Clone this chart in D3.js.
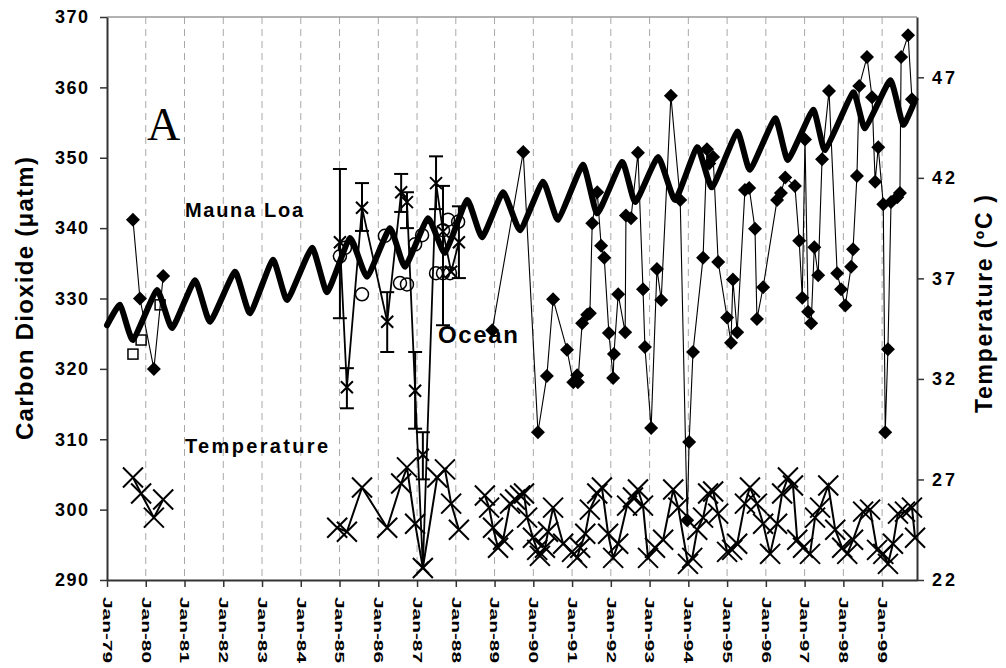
<!DOCTYPE html>
<html><head><meta charset="utf-8">
<script src="https://cdn.jsdelivr.net/npm/d3@7"></script>
<style>
body{margin:0;background:#fff}
svg{display:block}
text{font-family:"Liberation Sans",Arial,sans-serif;font-weight:bold;fill:#000}
</style>
</head><body>
<svg id="chart" width="1006" height="668"></svg>
<script>
// ---------- tick labels ----------
const xTickYears = [1979,1980,1981,1982,1983,1984,1985,1986,1987,1988,1989,1990,1991,1992,1993,1994,1995,1996,1997,1998,1999];
const xTickLabels = ["Jan-79","Jan-80","Jan-81","Jan-82","Jan-83","Jan-84","Jan-85","Jan-86","Jan-87","Jan-88","Jan-89","Jan-90","Jan-91","Jan-92","Jan-93","Jan-94","Jan-95","Jan-96","Jan-97","Jan-98","Jan-99"];
const co2Ticks = [290,300,310,320,330,340,350,360,370];
const tempTicks = [22,27,32,37,42,47];

// ---------- Mauna Loa (thick line) ----------
const mlDates = [1979.00,1979.34,1979.67,1980.29,1980.68,1981.27,1981.66,1982.30,1982.69,1983.28,1983.65,1984.29,1984.68,1985.27,1985.71,1986.30,1986.69,1987.28,1987.72,1988.29,1988.68,1989.22,1989.66,1990.25,1990.64,1991.28,1991.65,1992.29,1992.63,1993.22,1993.66,1994.23,1994.61,1995.26,1995.59,1996.24,1996.57,1997.22,1997.53,1998.25,1998.56,1999.21,1999.54,1999.85];
const mlValues = [326.2,329.1,324.1,331.2,325.8,332.6,326.7,333.8,327.9,335.5,329.8,337.2,330.9,338.6,333.1,340.0,334.5,341.4,336.5,344.0,338.7,345.1,339.7,346.6,341.2,349.0,342.1,349.4,343.7,350.1,344.0,351.5,345.8,353.7,348.3,355.6,349.7,356.8,351.1,359.3,354.2,361.0,354.7,358.2];

// ---------- Ocean pCO2 (diamonds, thin line); null = break ----------
const oceanDates = [1979.67,1979.85,1980.21,1980.45,1984.0,1988.94,1989.74,1990.12,1990.35,1990.51,1990.87,1991.03,1991.13,1991.15,1991.26,1991.39,1991.46,1991.52,1991.65,1991.75,1991.83,1991.95,1992.06,1992.08,1992.19,1992.37,1992.39,1992.52,1992.70,1992.83,1992.88,1993.04,1993.19,1993.30,1993.55,1993.79,1993.97,1994.02,1994.12,1994.38,1994.48,1994.54,1994.64,1994.77,1995.00,1995.10,1995.15,1995.26,1995.46,1995.57,1995.72,1995.77,1995.93,1996.29,1996.39,1996.50,1996.75,1996.86,1996.94,1997.01,1997.09,1997.17,1997.25,1997.35,1997.45,1997.63,1997.84,1997.94,1998.05,1998.20,1998.25,1998.35,1998.41,1998.61,1998.74,1998.82,1998.90,1999.03,1999.08,1999.15,1999.23,1999.39,1999.46,1999.49,1999.67,1999.77];
const oceanValues = [341.2,330.0,320.0,333.2,null,325.5,350.8,311.0,319.0,329.9,322.7,318.1,319.1,318.1,326.5,327.7,327.9,340.7,345.1,337.5,335.8,325.1,318.7,322.1,330.6,325.2,341.8,341.4,350.7,331.3,323.1,311.6,334.2,329.8,358.8,344.0,298.5,309.6,322.4,335.8,351.2,349.2,350.1,335.2,327.3,323.7,332.7,325.2,345.4,345.7,339.9,327.1,331.6,344.0,345.0,347.2,346.0,338.2,330.1,352.6,328.1,326.5,337.3,333.3,349.8,359.5,333.6,331.3,329.0,334.5,337.0,347.4,360.2,364.3,358.6,346.6,351.5,343.4,311.0,322.8,343.7,344.4,345.0,364.3,367.4,358.3];

// ---------- open squares ----------
const squareDates = [1979.67,1979.88,1980.37];
const squareValues = [322.1,324.1,329.1];

// ---------- open circles ----------
const circleDates = [1985.01,1985.14,1985.58,1986.17,1986.56,1986.74,1986.95,1987.13,1987.49,1987.67,1987.85,1987.67,1987.80,1988.06];
const circleValues = [336.0,337.2,330.6,338.9,332.2,332.0,337.7,339.0,333.6,333.6,333.6,339.7,341.2,340.9];

// ---------- X markers with error bars (connected) ----------
const xsDates  = [1985.01,1985.19,1985.58,1986.23,1986.59,1986.74,1986.95,1987.15,1987.49,1987.67,1987.88,1988.08];
const xsValues = [338.0,317.4,342.9,326.7,345.1,343.7,316.9,291.8,346.4,339.5,333.8,338.0];
const xsLow    = [327.2,314.4,339.6,322.4,342.3,340.0,311.5,null,342.7,326.2,null,332.9];
const xsHigh   = [348.4,320.1,346.4,330.9,347.7,345.1,322.4,null,350.2,346.0,null,343.1];
// unconnected X with error bar
const xsExtraDates = [1987.15];
const xsExtraValues = [307.8];
const xsExtraLow = [304.3];
const xsExtraHigh = [311.0];

// ---------- Temperature (big X, right axis); null = break ----------
const tempDates = [1979.67,1979.88,1980.21,1980.45,1982.0,1984.94,1985.19,1985.58,1986.23,1986.59,1986.74,1986.95,1987.15,1987.52,1987.72,1987.88,1988.08,1988.4,
1988.75,1988.86,1988.96,1989.09,1989.22,1989.40,1989.53,1989.66,1989.76,1989.84,1989.99,1990.10,1990.17,1990.30,1990.38,1990.51,1990.77,1991.00,1991.13,1991.21,1991.34,1991.46,1991.65,1991.77,1991.93,1992.06,1992.19,1992.42,1992.57,1992.70,1992.83,1992.96,1993.14,1993.35,1993.61,1993.74,1993.99,1994.10,1994.23,1994.38,1994.51,1994.64,1994.77,1995.00,1995.13,1995.26,1995.46,1995.59,1995.77,1995.93,1996.11,1996.29,1996.42,1996.57,1996.70,1996.81,1996.96,1997.14,1997.27,1997.40,1997.61,1997.79,1997.97,1998.10,1998.25,1998.51,1998.69,1998.87,1999.03,1999.15,1999.28,1999.41,1999.59,1999.77,1999.85];
const tempValues = [27.1,26.3,25.1,26.0,null,24.6,24.4,26.6,24.6,26.8,27.6,24.8,22.6,27.1,27.5,25.8,24.5,null,
26.2,25.6,24.6,23.6,24.0,25.8,26.0,26.2,26.3,25.1,24.1,23.5,23.2,23.6,24.4,25.6,23.8,23.4,23.1,23.6,24.3,25.5,26.3,26.6,24.3,23.1,23.8,25.7,26.1,26.5,25.7,23.1,23.6,24.0,26.5,25.6,22.8,23.1,24.5,25.1,26.3,26.4,25.3,23.4,23.5,23.8,25.8,26.6,25.8,24.8,23.3,24.8,26.3,27.1,26.7,24.0,23.6,23.3,25.1,25.6,26.7,24.5,23.6,23.3,24.0,25.4,25.5,23.5,23.3,22.8,23.8,25.3,25.4,25.6,24.1];

// ---------- chart ----------
const svg = d3.select("#chart");
svg.append("rect").attr("width",1006).attr("height",668).attr("fill","#fff");

const x = d3.scaleLinear().domain([1979, 1999.9]).range([107, 917]);
const yL = d3.scaleLinear().domain([290, 370]).range([580, 17]);
const yR = d3.scaleLinear().domain([22, 50]).range([580, 17]);
const FONT = "Liberation Sans, Arial, sans-serif";

// gridlines
svg.append("g").selectAll("line").data(xTickYears.slice(1)).join("line")
  .attr("x1", d => x(d)).attr("x2", d => x(d))
  .attr("y1", yL(370)).attr("y2", yL(290))
  .attr("stroke", "#a8a8a8").attr("stroke-width", 1).attr("stroke-dasharray", "7,5");

// top border
svg.append("line").attr("x1", x(1979)).attr("x2", x(1999.9)).attr("y1", yL(370)).attr("y2", yL(370))
  .attr("stroke", "#999").attr("stroke-width", 1.5);

// left axis
const gL = svg.append("g").attr("transform", `translate(${x(1979)},0)`)
  .call(d3.axisLeft(yL).tickValues(co2Ticks).tickSize(7).tickPadding(12).tickSizeOuter(0));
gL.select(".domain").attr("stroke", "#333").attr("stroke-width", 2);
gL.selectAll(".tick line").attr("stroke", "#333").attr("stroke-width", 1.5);
gL.selectAll("text").attr("font-size", 18).attr("font-family", FONT)
  .attr("font-weight", "bold").attr("fill", "#000").attr("textLength", 33).attr("lengthAdjust", "spacing");

// right axis
const gR = svg.append("g").attr("transform", `translate(${x(1999.9)},0)`)
  .call(d3.axisRight(yR).tickValues(tempTicks).tickSize(7).tickPadding(8).tickSizeOuter(0));
gR.select(".domain").attr("stroke", "#333").attr("stroke-width", 2);
gR.selectAll(".tick line").attr("stroke", "#333").attr("stroke-width", 1.5);
gR.selectAll("text").attr("font-size", 18).attr("font-family", FONT)
  .attr("font-weight", "bold").attr("fill", "#000").attr("textLength", 23).attr("lengthAdjust", "spacing");

// bottom axis
const gB = svg.append("g").attr("transform", `translate(0,${yL(290)})`)
  .call(d3.axisBottom(x).tickValues(xTickYears).tickSize(7).tickSizeOuter(0)
    .tickFormat((d, i) => xTickLabels[i]));
gB.select(".domain").attr("stroke", "#333").attr("stroke-width", 2);
gB.selectAll(".tick line").attr("stroke", "#333").attr("stroke-width", 1.5);
gB.selectAll("text")
  .attr("font-size", 13).attr("font-family", FONT)
  .attr("font-weight", "bold").attr("fill", "#000")
  .attr("text-anchor", "start")
  .attr("transform", "rotate(90)")
  .attr("x", 17).attr("y", 0).attr("dy", "0.36em")
  .attr("textLength", 66).attr("lengthAdjust", "spacingAndGlyphs");

// Mauna Loa thick line
const ml = mlDates.map((d, i) => ({d, v: mlValues[i]}));
svg.append("path").datum(ml)
  .attr("fill", "none").attr("stroke", "#000").attr("stroke-width", 6)
  .attr("stroke-linejoin", "round").attr("stroke-linecap", "round")
  .attr("d", d3.line().x(p => x(p.d)).y(p => yL(p.v)).curve(d3.curveCardinal.tension(0.55)));

// Ocean diamonds
const oc = oceanDates.map((d, i) => ({d, v: oceanValues[i]}));
svg.append("path").datum(oc)
  .attr("fill", "none").attr("stroke", "#000").attr("stroke-width", 1.1)
  .attr("d", d3.line().defined(p => p.v != null).x(p => x(p.d)).y(p => yL(p.v)));
svg.append("g").selectAll("path").data(oc.filter(p => p.v != null)).join("path")
  .attr("transform", p => `translate(${x(p.d)},${yL(p.v)})`)
  .attr("d", "M0,-7L7,0L0,7L-7,0Z").attr("fill", "#000");

// open squares
svg.append("g").selectAll("rect").data(squareDates.map((d, i) => ({d, v: squareValues[i]}))).join("rect")
  .attr("x", p => x(p.d) - 5).attr("y", p => yL(p.v) - 5).attr("width", 10).attr("height", 10)
  .attr("fill", "none").attr("stroke", "#000").attr("stroke-width", 1.5);

// open circles
svg.append("g").selectAll("circle").data(circleDates.map((d, i) => ({d, v: circleValues[i]}))).join("circle")
  .attr("cx", p => x(p.d)).attr("cy", p => yL(p.v)).attr("r", 6.5)
  .attr("fill", "none").attr("stroke", "#000").attr("stroke-width", 1.5);

// X series with error bars
const xs = xsDates.map((d, i) => ({d, v: xsValues[i], lo: xsLow[i], hi: xsHigh[i]}));
const xsExtra = xsExtraDates.map((d, i) => ({d, v: xsExtraValues[i], lo: xsExtraLow[i], hi: xsExtraHigh[i]}));
svg.append("path").datum(xs)
  .attr("fill", "none").attr("stroke", "#000").attr("stroke-width", 1.8)
  .attr("d", d3.line().x(p => x(p.d)).y(p => yL(p.v)));
const allXs = xs.concat(xsExtra);
const eb = svg.append("g").attr("stroke", "#000").attr("stroke-width", 2);
allXs.filter(p => p.lo != null).forEach(p => {
  const cx = x(p.d);
  eb.append("line").attr("x1", cx).attr("x2", cx).attr("y1", yL(p.lo)).attr("y2", yL(p.hi));
  eb.append("line").attr("x1", cx - 7).attr("x2", cx + 7).attr("y1", yL(p.lo)).attr("y2", yL(p.lo));
  eb.append("line").attr("x1", cx - 7).attr("x2", cx + 7).attr("y1", yL(p.hi)).attr("y2", yL(p.hi));
});
svg.append("g").selectAll("path").data(allXs).join("path")
  .attr("transform", p => `translate(${x(p.d)},${yL(p.v)})`)
  .attr("d", "M-6,-6L6,6M-6,6L6,-6").attr("stroke", "#000").attr("stroke-width", 2).attr("fill", "none");

// Temperature
const tp = tempDates.map((d, i) => ({d, v: tempValues[i]}));
svg.append("path").datum(tp)
  .attr("fill", "none").attr("stroke", "#000").attr("stroke-width", 2)
  .attr("d", d3.line().defined(p => p.v != null).x(p => x(p.d)).y(p => yR(p.v)));
svg.append("g").selectAll("path").data(tp.filter(p => p.v != null)).join("path")
  .attr("transform", p => `translate(${x(p.d)},${yR(p.v)})`)
  .attr("d", "M-10,-10L10,10M-10,10L10,-10").attr("stroke", "#000").attr("stroke-width", 2).attr("fill", "none");

// annotations
svg.append("text").attr("x", 147).attr("y", 140)
  .style("font-family", "Liberation Serif, Times New Roman, serif").style("font-weight", "normal")
  .attr("font-size", 46).text("A");
svg.append("text").attr("x", 185).attr("y", 217).attr("font-size", 20)
  .attr("textLength", 118).attr("lengthAdjust", "spacing").text("Mauna Loa");
svg.append("text").attr("x", 185).attr("y", 453).attr("font-size", 20)
  .attr("textLength", 143).attr("lengthAdjust", "spacing").text("Temperature");
svg.append("text").attr("x", 438).attr("y", 343).attr("font-size", 24)
  .attr("textLength", 80).attr("lengthAdjust", "spacing").text("Ocean");

// axis titles
svg.append("text").attr("transform", "translate(33,298.5) rotate(-90)")
  .attr("text-anchor", "middle").attr("font-size", 24)
  .attr("textLength", 283).attr("lengthAdjust", "spacing").text("Carbon Dioxide (μatm)");
svg.append("text").attr("transform", "translate(992,304) rotate(-90)")
  .attr("text-anchor", "middle").attr("font-size", 23)
  .attr("textLength", 218).attr("lengthAdjust", "spacing").text("Temperature (ºC )");
</script>
</body></html>
